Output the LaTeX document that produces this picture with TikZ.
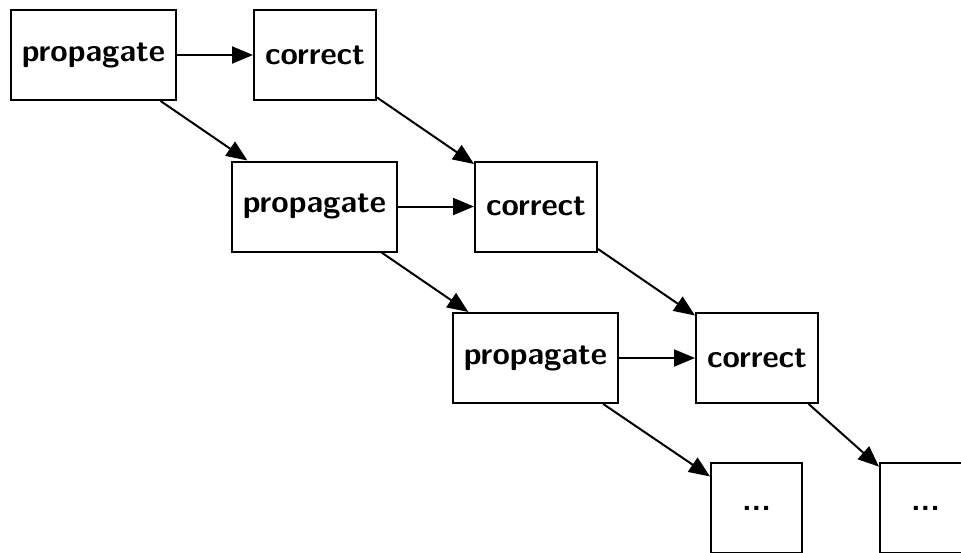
\documentclass[tikz,border=0pt]{standalone}
\usetikzlibrary{arrows.meta}
\begin{document}
\begin{tikzpicture}[x=0.5pt,y=-0.5pt,
  box/.style={draw,line width=1pt,minimum height=45pt,inner sep=0pt,
    font=\sffamily\bfseries\fontsize{15.8}{19}\selectfont},
  prop/.style={box,minimum width=82.5pt},
  corr/.style={box,minimum width=61pt},
  more/.style={box,minimum width=45.5pt},
  flow/.style={line width=1pt,-{Triangle[length=10.5pt,width=8.5pt]}}]
\useasboundingbox (0,0) rectangle (961,552);
\clip (0,0) rectangle (961,552);
% first stage
\node[prop] (p1) at (93.5,55) {propagate};
\node[corr] (c1) at (315,55) {correct};
% second stage
\node[prop] (p2) at (314.5,206.5) {propagate};
\node[corr] (c2) at (536,206.5) {correct};
% third stage
\node[prop] (p3) at (535.5,358) {propagate};
\node[corr] (c3) at (757,358) {correct};
% continuation
\node[more] (d1) at (756.5,508) {...};
\node[more] (d2) at (925.5,508) {...};
\draw[flow] (p1) -- (c1);
\draw[flow] (p1) -- (p2);
\draw[flow] (c1) -- (c2);
\draw[flow] (p2) -- (c2);
\draw[flow] (p2) -- (p3);
\draw[flow] (c2) -- (c3);
\draw[flow] (p3) -- (c3);
\draw[flow] (p3) -- (d1);
\draw[flow] (c3) -- (d2);
\end{tikzpicture}
\end{document}
